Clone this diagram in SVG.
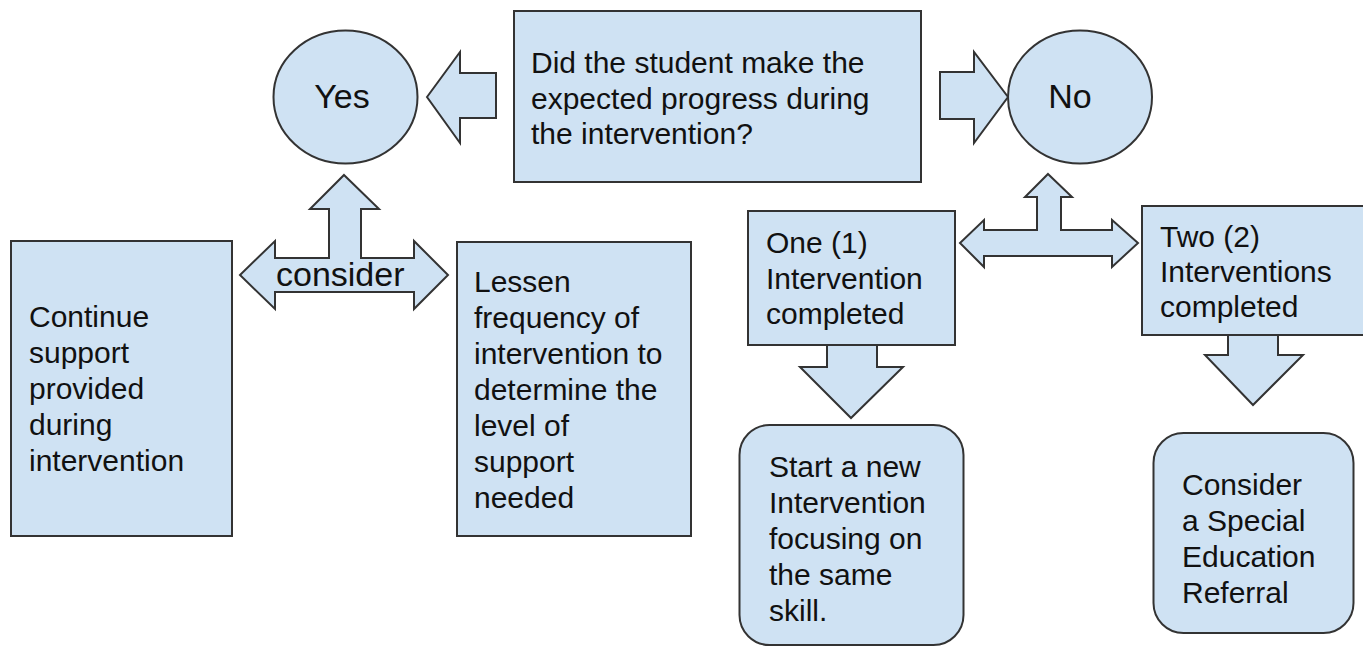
<svg xmlns="http://www.w3.org/2000/svg" width="1363" height="648" viewBox="0 0 1363 648">
<style>
.s{fill:#cfe2f3;stroke:#333;stroke-width:2;stroke-linejoin:miter}
.t{font-family:"Liberation Sans",Arial,sans-serif;font-size:30px;fill:#111}
.b{font-family:"Liberation Sans",Arial,sans-serif;font-size:34px;fill:#111}
</style>
<rect width="1363" height="648" fill="#fff"/>
<g id="question">
<rect class="s" x="514" y="11" width="407" height="171"/>
<text class="t"><tspan x="531" y="73">Did the student make the</tspan><tspan x="531" y="108.5">expected progress during</tspan><tspan x="531" y="144">the intervention?</tspan></text>
</g>
<g id="yes">
<ellipse class="s" cx="345.5" cy="97" rx="72" ry="66.5"/>
<text class="b" x="342" y="108" text-anchor="middle">Yes</text>
</g>
<g id="no">
<ellipse class="s" cx="1080" cy="97" rx="72" ry="66.5"/>
<text class="b" x="1070" y="108" text-anchor="middle">No</text>
</g>
<g id="continue">
<rect class="s" x="11" y="241" width="221" height="295"/>
<text class="t"><tspan x="29" y="327">Continue</tspan><tspan x="29" y="363">support</tspan><tspan x="29" y="399">provided</tspan><tspan x="29" y="435">during</tspan><tspan x="29" y="471">intervention</tspan></text>
</g>
<g id="lessen">
<rect class="s" x="457" y="242" width="234" height="294"/>
<text class="t"><tspan x="474" y="292">Lessen</tspan><tspan x="474" y="328">frequency of</tspan><tspan x="474" y="364">intervention to</tspan><tspan x="474" y="400">determine the</tspan><tspan x="474" y="436">level of</tspan><tspan x="474" y="472">support</tspan><tspan x="474" y="508">needed</tspan></text>
</g>
<g id="one">
<rect class="s" x="748" y="211" width="207" height="134"/>
<text class="t"><tspan x="766" y="253">One (1)</tspan><tspan x="766" y="289">Intervention</tspan><tspan x="766" y="324">completed</tspan></text>
</g>
<g id="two">
<rect class="s" x="1142" y="206" width="230" height="129"/>
<text class="t"><tspan x="1160" y="247">Two (2)</tspan><tspan x="1160" y="282">Interventions</tspan><tspan x="1160" y="317">completed</tspan></text>
</g>
<g id="start">
<rect class="s" x="739.5" y="425" width="224" height="220" rx="30" ry="30"/>
<text class="t"><tspan x="769" y="477">Start a new</tspan><tspan x="769" y="513">Intervention</tspan><tspan x="769" y="549">focusing on</tspan><tspan x="769" y="585">the same</tspan><tspan x="769" y="621">skill.</tspan></text>
</g>
<g id="referral">
<rect class="s" x="1153.5" y="433" width="200" height="200" rx="30" ry="30"/>
<text class="t"><tspan x="1182" y="495">Consider</tspan><tspan x="1182" y="531">a Special</tspan><tspan x="1182" y="567">Education</tspan><tspan x="1182" y="603">Referral</tspan></text>
</g>
<g id="connectors">
<polygon class="s" points="427,97 460,52 460,73 496,73 496,118 460,118 460,143"/>
<polygon class="s" points="940,72 974,72 974,52 1008,97 974,143 974,119 940,119"/>
<polygon class="s" points="344,175 379,209 361,209 361,258 414,258 414,241 448,275 414,309 414,292 275,292 275,309 240,275 275,241 275,258 329,258 329,209 310,209"/>
<text class="b" x="276" y="286">consider</text>
<polygon class="s" points="1048,174 1072,197 1061,197 1061,230 1112,230 1112,220 1138,243 1112,267 1112,256 984,256 984,267 960,243 984,220 984,230 1037,230 1037,197 1025,197"/>
<polygon class="s" points="827,345 877,345 877,367 903,367 851,418 800,367 827,367"/>
<polygon class="s" points="1228,335 1278,335 1278,355 1303,355 1253,405 1205,355 1228,355"/>
</g>
</svg>
